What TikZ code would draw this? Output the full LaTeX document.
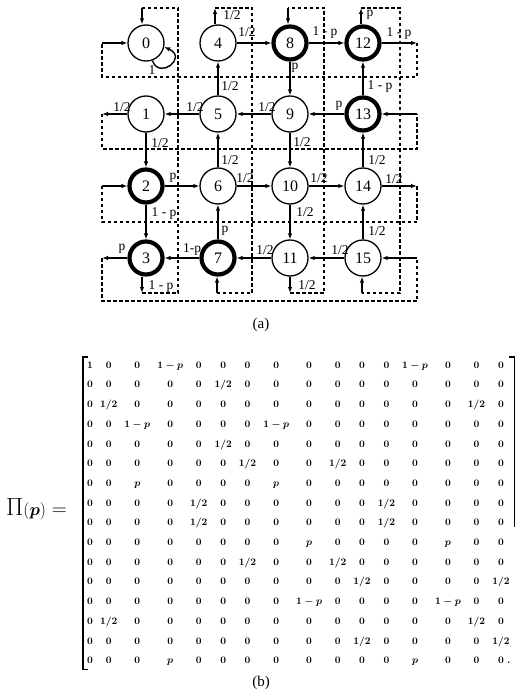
\documentclass[tikz,border=0pt]{standalone}
\usepackage{amsmath}
\usepackage{bm}
\usepackage{fontspec}
\newfontfamily\timesfont{Liberation Serif}
\usetikzlibrary{arrows.meta,matrix}
\tikzset{font=\timesfont}
\tikzset{
	state/.style={circle, draw, line width=1.3pt, minimum size=36pt, inner sep=0pt, font=\timesfont\fontsize{16}{16}\selectfont},
	heavy/.style={state, line width=4.2pt, minimum size=33pt},
	arc/.style={line width=1.4pt, -{Latex[length=6pt, width=4.5pt]}},
	wrap/.style={line width=1.3pt, dash pattern=on 3.5pt off 2.5pt},
	lbl/.style={inner sep=0pt, font=\timesfont\fontsize{13.5}{14}\selectfont},
	brk/.style={line width=1.2pt}
}

\begin{document}
\begin{tikzpicture}[x=1pt, y=-1pt]
	\useasboundingbox (0,0) rectangle (518,695);
	\begin{scope}
		\node[state] (s0)  at (146, 43) {0};
		\node[state] (s1)  at (146,114) {1};
		\node[heavy] (s2)  at (146,186) {2};
		\node[heavy] (s3)  at (146,258) {3};
		\node[state] (s4)  at (218, 43) {4};
		\node[state] (s5)  at (218,114) {5};
		\node[state] (s6)  at (218,186) {6};
		\node[heavy] (s7)  at (218,258) {7};
		\node[heavy] (s8)  at (290, 43) {8};
		\node[state] (s9)  at (290,114) {9};
		\node[state] (s10) at (290,186) {10};
		\node[state] (s11) at (290,258) {11};
		\node[heavy] (s12) at (363, 43) {12};
		\node[heavy] (s13) at (363,114) {13};
		\node[state] (s14) at (363,186) {14};
		\node[state] (s15) at (363,258) {15};

		\coordinate (o12) at (417, 43);
		\coordinate (i0)  at (102, 43);
		\coordinate (o1)  at (102,114);
		\coordinate (i13) at (417,114);
		\coordinate (o14) at (417,186);
		\coordinate (i2)  at (102,186);
		\coordinate (o3)  at (102,258);
		\coordinate (i15) at (417,258);
		\coordinate (d3)  at (142,293);
		\coordinate (u0)  at (142,  8);
		\coordinate (u4)  at (215,  8);
		\coordinate (d7)  at (217,293);
		\coordinate (d11) at (290,293);
		\coordinate (u8)  at (288,  8);
		\coordinate (u12) at (361,  8);
		\coordinate (d15) at (362,293);

		\draw[wrap] (o12) -- ++(0,34) -| (i0);
		\draw[wrap] (o1)  -- ++(0,35) -| (i13);
		\draw[wrap] (o14) -- ++(0,36) -| (i2);
		\draw[wrap] (o3)  -- ++(0,43) -| (i15);
		\draw[wrap] (d3)  -| (178,8)   -- (u0);
		\draw[wrap] (u4)  -| (252,293) -- (d7);
		\draw[wrap] (d11) -| (324,8)   -- (u8);
		\draw[wrap] (u12) -| (400,293) -- (d15);

		\draw[arc] (s12) -- (o12);
		\draw[arc] (i0)  -- (s0);
		\draw[arc] (s1)  -- (o1);
		\draw[arc] (i13) -- (s13);
		\draw[arc] (s14) -- (o14);
		\draw[arc] (i2)  -- (s2);
		\draw[arc] (s3)  -- (o3);
		\draw[arc] (i15) -- (s15);
		\draw[arc] (s3.south -| d3)   -- (d3);
		\draw[arc] (u0)  -- (s0.north -| u0);
		\draw[arc] (s4.north -| u4)   -- (u4);
		\draw[arc] (d7)  -- (s7.south -| d7);
		\draw[arc] (s11) -- (d11);
		\draw[arc] (u8)  -- (s8.north -| u8);
		\draw[arc] (s12.north -| u12) -- (u12);
		\draw[arc] (d15) -- (s15.south -| d15);

		\draw[arc] (s4)  -- (s8);
		\draw[arc] (s8)  -- (s12);
		\draw[arc] (s5)  -- (s1);
		\draw[arc] (s9)  -- (s5);
		\draw[arc] (s13) -- (s9);
		\draw[arc] (s2)  -- (s6);
		\draw[arc] (s6)  -- (s10);
		\draw[arc] (s10) -- (s14);
		\draw[arc] (s7)  -- (s3);
		\draw[arc] (s11) -- (s7);
		\draw[arc] (s15) -- (s11);
		\draw[arc] (s1)  -- (s2);
		\draw[arc] (s2)  -- (s3);
		\draw[arc] (s5)  -- (s4);
		\draw[arc] (s6)  -- (s5);
		\draw[arc] (s7)  -- (s6);
		\draw[arc] (s8)  -- (s9);
		\draw[arc] (s9)  -- (s10);
		\draw[arc] (s10) -- (s11);
		\draw[arc] (s13) -- (s12);
		\draw[arc] (s14) -- (s13);
		\draw[arc] (s15) -- (s14);
		\draw[arc] (s0.-70) .. controls (159,80) and (188,58) .. (s0.-12);

		\node[lbl] (l4u)   at (232, 15) {1/2};
		\node[lbl] (l4r)   at (247, 32) {1/2};
		\node[lbl] (l8r)   at (325, 32) {1 - p};
		\node[lbl] (l12u)  at (370, 15) {p};
		\node[lbl] (l12r)  at (399, 33) {1 - p};
		\node[lbl] (l0)    at (152, 70) {1};
		\node[lbl] (l8d)   at (295, 68) {p};
		\node[lbl] (l5u)   at (230, 86) {1/2};
		\node[lbl] (l13u)  at (380, 86) {1 - p};
		\node[lbl] (l1l)   at (122,107) {1/2};
		\node[lbl] (l5l)   at (195,107) {1/2};
		\node[lbl] (l9l)   at (267,107) {1/2};
		\node[lbl] (l13l)  at (339,106) {p};
		\node[lbl] (l1d)   at (160,143) {1/2};
		\node[lbl] (l9d)   at (302,142) {1/2};
		\node[lbl] (l6u)   at (230,160) {1/2};
		\node[lbl] (l14u)  at (377,160) {1/2};
		\node[lbl] (l2r)   at (173,178) {p};
		\node[lbl] (l6r)   at (245,178) {1/2};
		\node[lbl] (l10r)  at (319,178) {1/2};
		\node[lbl] (l14r)  at (394,179) {1/2};
		\node[lbl] (l2d)   at (164,213) {1 - p};
		\node[lbl] (l10d)  at (305,212) {1/2};
		\node[lbl] (l7u)   at (225,231) {p};
		\node[lbl] (l15u)  at (377,231) {1/2};
		\node[lbl] (l3l)   at (122,249) {p};
		\node[lbl] (l7l)   at (192,249) {1-p};
		\node[lbl] (l11l)  at (265,250) {1/2};
		\node[lbl] (l15l)  at (340,250) {1/2};
		\node[lbl] (l3d)   at (161,286) {1 - p};
		\node[lbl] (l11d)  at (307,285) {1/2};
	\end{scope}

	\node[font=\timesfont\fontsize{15}{15}\selectfont] (capa) at (261,325) {(a)};

	\node[anchor=west, inner sep=0pt] (lhs) at (6,509)
		{{\fontsize{26}{26}\selectfont$\Pi$}{\fontsize{16}{16}\selectfont$(\bm{p})$}{\fontsize{20}{20}\selectfont$\;=$}};

	\matrix (pm) [matrix of math nodes, anchor=north west, inner sep=0pt,
		column sep=7.1pt, row sep=10.2pt,
		nodes={inner sep=0pt, text height=7pt, text depth=2.5pt, font=\fontsize{10}{12}\selectfont\boldmath}]
		at (87,361) {
		1 & 0 & 0 & 1-p & 0 & 0 & 0 & 0 & 0 & 0 & 0 & 0 & 1-p & 0 & 0 & 0 \\
		0 & 0 & 0 & 0 & 0 & 1/2 & 0 & 0 & 0 & 0 & 0 & 0 & 0 & 0 & 0 & 0 \\
		0 & 1/2 & 0 & 0 & 0 & 0 & 0 & 0 & 0 & 0 & 0 & 0 & 0 & 0 & 1/2 & 0 \\
		0 & 0 & 1-p & 0 & 0 & 0 & 0 & 1-p & 0 & 0 & 0 & 0 & 0 & 0 & 0 & 0 \\
		0 & 0 & 0 & 0 & 0 & 1/2 & 0 & 0 & 0 & 0 & 0 & 0 & 0 & 0 & 0 & 0 \\
		0 & 0 & 0 & 0 & 0 & 0 & 1/2 & 0 & 0 & 1/2 & 0 & 0 & 0 & 0 & 0 & 0 \\
		0 & 0 & p & 0 & 0 & 0 & 0 & p & 0 & 0 & 0 & 0 & 0 & 0 & 0 & 0 \\
		0 & 0 & 0 & 0 & 1/2 & 0 & 0 & 0 & 0 & 0 & 0 & 1/2 & 0 & 0 & 0 & 0 \\
		0 & 0 & 0 & 0 & 1/2 & 0 & 0 & 0 & 0 & 0 & 0 & 1/2 & 0 & 0 & 0 & 0 \\
		0 & 0 & 0 & 0 & 0 & 0 & 0 & 0 & p & 0 & 0 & 0 & 0 & p & 0 & 0 \\
		0 & 0 & 0 & 0 & 0 & 0 & 1/2 & 0 & 0 & 1/2 & 0 & 0 & 0 & 0 & 0 & 0 \\
		0 & 0 & 0 & 0 & 0 & 0 & 0 & 0 & 0 & 0 & 1/2 & 0 & 0 & 0 & 0 & 1/2 \\
		0 & 0 & 0 & 0 & 0 & 0 & 0 & 0 & 1-p & 0 & 0 & 0 & 0 & 1-p & 0 & 0 \\
		0 & 1/2 & 0 & 0 & 0 & 0 & 0 & 0 & 0 & 0 & 0 & 0 & 0 & 0 & 1/2 & 0 \\
		0 & 0 & 0 & 0 & 0 & 0 & 0 & 0 & 0 & 0 & 1/2 & 0 & 0 & 0 & 0 & 1/2 \\
		0 & 0 & 0 & p & 0 & 0 & 0 & 0 & 0 & 0 & 0 & 0 & p & 0 & 0 & 0 \\
	};
	\draw[brk] ([shift={(1,-4)}]pm.north west) -| ([shift={(-4,3)}]pm.south west) -- ++(5,0);
	\draw[brk] ([shift={(-1,-4)}]pm.north east) -- ++(6,0) -- ++(0,170);
	\node[anchor=base west, inner sep=0pt, font=\bfseries] (stop) at ([xshift=3pt]pm-16-16.base east) {.};

	\node[font=\timesfont\fontsize{15}{15}\selectfont] (capb) at (261,683) {(b)};
\end{tikzpicture}
\end{document}
